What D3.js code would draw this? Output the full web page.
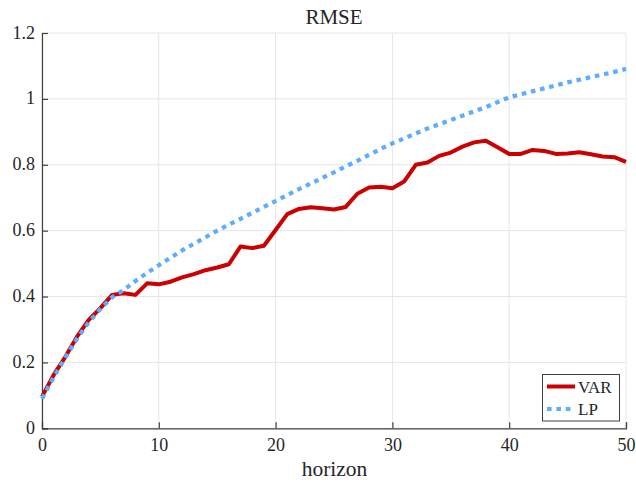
<!DOCTYPE html>
<html><head><meta charset="utf-8">
<script src="https://cdn.jsdelivr.net/npm/d3@7"></script>
<style>
html,body{margin:0;padding:0;background:#fff;}
svg text{font-family:'Liberation Serif','Times New Roman',serif;fill:#262626;}
</style></head>
<body><svg id="c" width="636" height="483"></svg>
<script>
const horizon = d3.range(0, 51);
const varRMSE = [0.096,0.162,0.217,0.278,0.329,0.365,0.405,0.41,0.405,0.44,0.437,0.445,0.458,0.468,0.48,0.488,0.498,0.552,0.547,0.554,0.602,0.65,0.666,0.671,0.668,0.664,0.672,0.712,0.731,0.733,0.729,0.749,0.8,0.807,0.827,0.837,0.855,0.868,0.873,0.853,0.833,0.833,0.845,0.842,0.833,0.834,0.838,0.832,0.825,0.823,0.809];
const lpRMSE = [0.09,0.155,0.215,0.272,0.322,0.362,0.398,0.42,0.447,0.472,0.495,0.518,0.54,0.56,0.58,0.6,0.618,0.636,0.654,0.672,0.69,0.708,0.726,0.743,0.76,0.777,0.795,0.812,0.83,0.848,0.865,0.88,0.895,0.91,0.923,0.936,0.949,0.962,0.975,0.99,1.005,1.014,1.023,1.032,1.041,1.05,1.058,1.066,1.074,1.082,1.091];
const xTicks = [0,10,20,30,40,50];
const yTicks = [0,0.2,0.4,0.6,0.8,1,1.2];
const seriesNames = ["VAR","LP"];

const svg = d3.select("#c");
const L=42, R=626, T=33, B=428.3;
const x = d3.scaleLinear().domain([0,50]).range([L,R]);
const y = d3.scaleLinear().domain([0,1.2]).range([B,T]);
const axisCol = "#404040";
const FONT = "'Liberation Serif','Times New Roman',serif";

// grid
const g = svg.append("g");
g.selectAll(".gx").data(xTicks).join("line")
  .attr("x1",d=>x(d)).attr("x2",d=>x(d)).attr("y1",T).attr("y2",B)
  .attr("stroke","#e6e6e6").attr("stroke-width",1);
g.selectAll(".gy").data(yTicks).join("line")
  .attr("x1",L).attr("x2",R).attr("y1",d=>y(d)).attr("y2",d=>y(d))
  .attr("stroke","#e6e6e6").attr("stroke-width",1);

// axes (inward ticks)
const xa = svg.append("g").attr("transform",`translate(0,${B})`)
  .call(d3.axisBottom(x).tickValues(xTicks).tickSize(-6).tickPadding(10).tickFormat(d3.format("d")));
const ya = svg.append("g").attr("transform",`translate(${L},0)`)
  .call(d3.axisLeft(y).tickValues(yTicks).tickSize(-6).tickPadding(7).tickFormat(d=>d===0?"0":(d===1?"1":d3.format(".1f")(d))));
[xa,ya].forEach(a=>{
  a.attr("font-family",null).attr("font-size",null);
  a.select(".domain").attr("stroke",axisCol).attr("stroke-width",1.2);
  a.selectAll(".tick line").attr("stroke",axisCol).attr("stroke-width",1.2);
  a.selectAll("text").style("font-size","18px").style("font-family",FONT).attr("fill","#262626");
});
xa.selectAll("text").attr("dy","0.71em");
ya.selectAll("text").attr("dy","0.28em");

// lines
const line = d3.line().x((d,i)=>x(horizon[i])).y(d=>y(d));
svg.append("path").datum(varRMSE).attr("d",line).attr("fill","none")
  .attr("stroke","#cc0000").attr("stroke-width",4).attr("stroke-linejoin","round");
svg.append("path").datum(lpRMSE).attr("d",line).attr("fill","none")
  .attr("stroke","#5eadff").attr("stroke-width",4.2).attr("stroke-dasharray","4.6,4.8");

// title & label
svg.append("text").attr("x",334).attr("y",24).attr("text-anchor","middle").style("font-size","21px").text("RMSE");
svg.append("text").attr("x",334.5).attr("y",476).attr("text-anchor","middle").style("font-size","21.5px").text("horizon");

// legend
const lg = svg.append("g");
lg.append("rect").attr("x",542.5).attr("y",374.5).attr("width",77).attr("height",46.5)
  .attr("fill","#fff").attr("stroke","#404040").attr("stroke-width",1);
lg.append("line").attr("x1",547).attr("x2",575).attr("y1",386.5).attr("y2",386.5)
  .attr("stroke","#cc0000").attr("stroke-width",4);
lg.append("line").attr("x1",547).attr("x2",575).attr("y1",409).attr("y2",409)
  .attr("stroke","#5eadff").attr("stroke-width",4.2).attr("stroke-dasharray","4.6,4.8");
lg.append("text").attr("x",578).attr("y",392.5).style("font-size","17px").text(seriesNames[0]);
lg.append("text").attr("x",578).attr("y",415).style("font-size","17px").text(seriesNames[1]);
</script></body></html>
